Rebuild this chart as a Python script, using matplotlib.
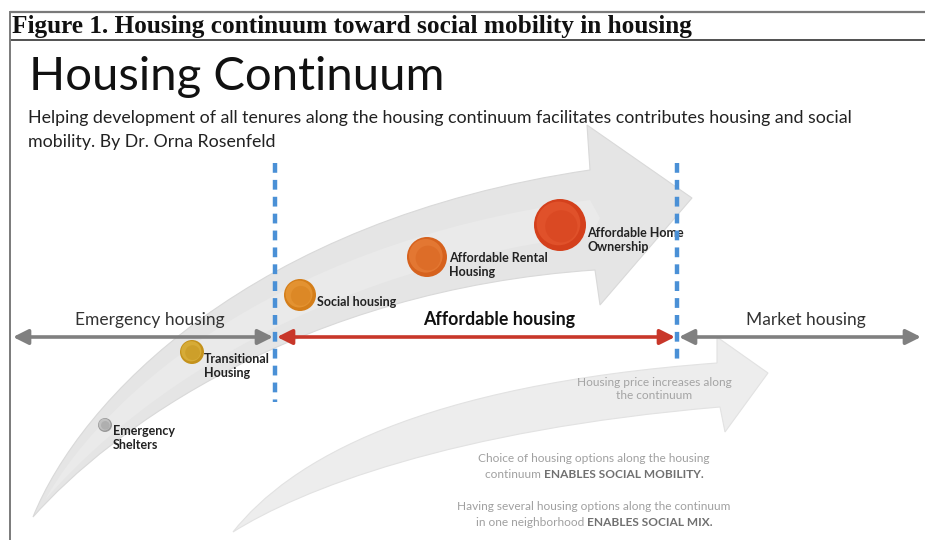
import numpy as np
import matplotlib
matplotlib.use("Agg")
import matplotlib.pyplot as plt
from matplotlib.path import Path
from matplotlib.patches import PathPatch, Circle, FancyArrowPatch

# housing stages shown as balls along the big arrow
stages = ["Emergency\nShelters", "Transitional\nHousing", "Social housing",
          "Affordable Rental\nHousing", "Affordable Home\nOwnership"]
stage_x = [105, 192, 300, 427, 560]
stage_y = [425, 352, 295, 257, 225]
stage_r = [7, 12, 16, 20, 26]
stage_base = ["#9a9a9a", "#c4921c", "#d47e1a", "#d6621e", "#d4401c"]
stage_light = ["#e2e2e2", "#e6c04e", "#f0a444", "#ee8a44", "#ea6036"]

# segments of the continuum line
segments = ["Emergency housing", "Affordable housing", "Market housing"]
segment_bounds = [13, 275, 677, 923]
segment_label_x = [150, 499, 806]
segment_colors = ["#808080", "#c8372a", "#808080"]
line_y = 337

header = "Figure 1. Housing continuum toward social mobility in housing"
title = "Housing Continuum"
subtitle = ["Helping development of all tenures along the housing continuum facilitates contributes housing and social",
            "mobility. By Dr. Orna Rosenfeld"]
price_note = ["Housing price increases along", "the continuum"]
notes = [("Choice of housing options along the housing", ""),
         ("continuum ", "ENABLES SOCIAL MOBILITY."),
         ("", ""),
         ("Having several housing options along the continuum", ""),
         ("in one neighborhood ", "ENABLES SOCIAL MIX.")]

SANS = "Lato"

fig = plt.figure(figsize=(9.25, 5.4), dpi=100)
ax = fig.add_axes([0, 0, 1, 1])
ax.set_xlim(0, 925)
ax.set_ylim(540, 0)
ax.axis("off")

# frame and header
ax.plot([10, 925], [12, 12], color="#7a7a7a", lw=1.6, solid_capstyle="butt")
ax.plot([10, 925], [40, 40], color="#333333", lw=1.2, solid_capstyle="butt")
ax.plot([10, 10], [12, 540], color="#7a7a7a", lw=1.4)
ax.text(12, 27, header, family="Liberation Serif", weight="bold", fontsize=18.2,
        va="center", ha="left", color="#111111")

ax.text(29, 77, title, family=SANS, fontsize=34, va="center", ha="left", color="#111111")
ax.text(28, 118, subtitle[0], family=SANS, fontsize=12.8, va="center", ha="left", color="#222222")
ax.text(28, 142, subtitle[1], family=SANS, fontsize=12.8, va="center", ha="left", color="#222222")


def curved_arrow(upper, lower, head, face, edge):
    # upper/lower: cubic bezier control points from tail tip to shaft end
    # head: (upper barb, tip, lower barb)
    verts = [upper[0], upper[1], upper[2], upper[3],
             head[0], head[1], head[2],
             lower[3], lower[2], lower[1], lower[0], upper[0]]
    codes = [Path.MOVETO, Path.CURVE4, Path.CURVE4, Path.CURVE4,
             Path.LINETO, Path.LINETO, Path.LINETO,
             Path.LINETO, Path.CURVE4, Path.CURVE4, Path.CURVE4, Path.CLOSEPOLY]
    ax.add_patch(PathPatch(Path(verts, codes), facecolor=face, edgecolor=edge, lw=0.8, zorder=1))


# big arrow carrying the stages
curved_arrow([(33, 517), (80, 400), (250, 220), (590, 170)],
             [(33, 517), (110, 430), (300, 290), (595, 270)],
             [(587, 125), (692, 198), (600, 305)], "#e5e5e5", "#d9d9d9")
# inner highlight
curved_arrow([(45, 500), (95, 410), (255, 245), (590, 200)],
             [(45, 500), (105, 430), (275, 275), (592, 235)],
             [(590, 200), (600, 218), (592, 235)], "#eaeaea", "none")

# lower, fainter arrow
curved_arrow([(233, 532), (290, 460), (420, 385), (717, 363)],
             [(233, 532), (300, 490), (450, 430), (720, 407)],
             [(717, 337), (768, 373), (725, 432)], "#ededed", "#e2e2e2")

# continuum line: three double-headed segments
for i, (name, col) in enumerate(zip(segments, segment_colors)):
    x0, x1 = segment_bounds[i], segment_bounds[i + 1]
    pad = 2 if i > 0 else 0
    ax.add_patch(FancyArrowPatch((x0 + pad, line_y), (x1 - 2, line_y),
                                 arrowstyle="<|-|>,head_length=9,head_width=4.5",
                                 mutation_scale=1, color=col, lw=2.6, zorder=3,
                                 shrinkA=0, shrinkB=0))
    ax.text(segment_label_x[i], 320, name, family=SANS, fontsize=12.8 if i == 1 else 12.5,
            weight="bold" if i == 1 else "normal", ha="center", va="center",
            color="#111111" if i == 1 else "#333333", zorder=4)

# dashed boundaries
ax.plot([275, 275], [163, 402], color="#4a90d6", lw=3.2, dashes=(2.2, 1.6), zorder=5)
ax.plot([677, 677], [163, 364], color="#4a90d6", lw=3.2, dashes=(2.2, 1.6), zorder=5)

# stage balls with a simple shading
for name, x, y, r, c0, c1 in zip(stages, stage_x, stage_y, stage_r, stage_base, stage_light):
    ax.add_patch(Circle((x, y), r, facecolor=c0, edgecolor="none", zorder=4))
    ax.add_patch(Circle((x - r * 0.06, y - r * 0.06), r * 0.84, facecolor=c1,
                        edgecolor="none", alpha=0.55, zorder=4))
    ax.add_patch(Circle((x + r * 0.05, y + r * 0.05), r * 0.62, facecolor=c0,
                        edgecolor="none", alpha=0.45, zorder=4))

label_pos = [(113, 438), (204, 366), (317, 302), (449, 265), (587, 240)]
for name, (lx, ly) in zip(stages, label_pos):
    ax.text(lx, ly, name, family=SANS, weight="bold", fontsize=9, ha="left",
            va="center", color="#222222", linespacing=1.15, zorder=4)

# notes in the lower part
ax.text(654, 389, "\n".join(price_note), family=SANS, fontsize=8.6, ha="center",
        va="center", color="#a4a4a4", linespacing=1.3, zorder=4)

fig.canvas.draw()
renderer = fig.canvas.get_renderer()
note_y = [459, 475, 491, 507, 522]
for (plain, bold), y in zip(notes, note_y):
    if not plain and not bold:
        continue
    t1 = ax.text(0, y, plain, family=SANS, fontsize=8.6, ha="left", va="center",
                 color="#a0a0a0", zorder=4)
    t2 = ax.text(0, y, bold, family=SANS, fontsize=8.6, weight="bold", ha="left",
                 va="center", color="#707070", zorder=4)
    w1 = t1.get_window_extent(renderer).width if plain else 0
    w2 = t2.get_window_extent(renderer).width if bold else 0
    start = 594 - (w1 + w2) / 2
    t1.set_x(start)
    t2.set_x(start + w1)

fig.savefig("out.png", dpi=100)
